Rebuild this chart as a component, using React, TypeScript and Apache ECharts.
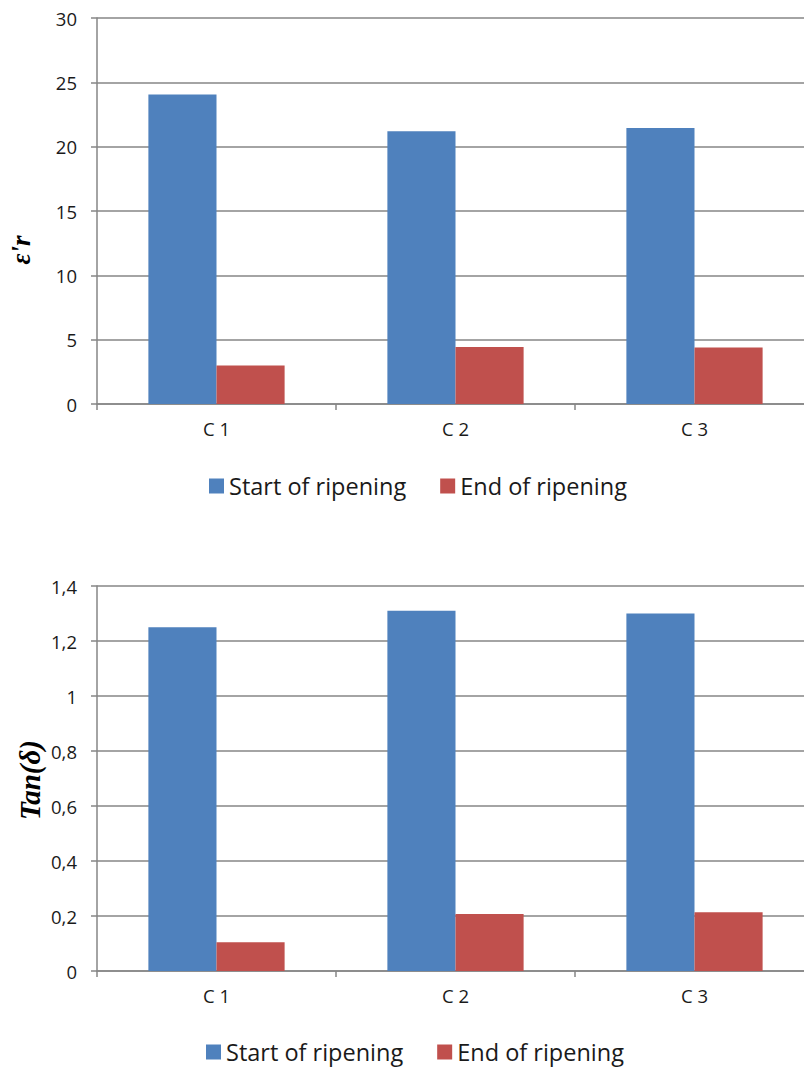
import React, { useEffect, useRef } from "react";
import * as echarts from "echarts";

const categories = ["C 1", "C 2", "C 3"];
const seriesNames = ["Start of ripening", "End of ripening"];
const epsStart = [24.05, 21.2, 21.45];
const epsEnd = [3.0, 4.43, 4.4];
const tanStart = [1.25, 1.31, 1.3];
const tanEnd = [0.105, 0.207, 0.214];

const BLUE = "#4F81BD";
const RED = "#C0504D";
const GRAY = "#868686";
const FONT = "'Open Sans', 'Noto Sans', sans-serif";

export default function App() {
  const ref = useRef<HTMLDivElement>(null);
  useEffect(() => {
    if (!ref.current) return;
    const chart = echarts.init(ref.current, undefined, { renderer: "svg" });
    const xAxisBase = (gridIndex: number) => ({
      type: "category" as const,
      gridIndex,
      data: categories,
      axisLine: { lineStyle: { color: GRAY, width: 1.5 } },
      axisTick: { show: true, length: 6, lineStyle: { color: GRAY, width: 1.5 } },
      axisLabel: { color: "#1a1a1a", fontSize: 18.5, fontFamily: FONT, margin: 15 },
      splitLine: { show: false },
    });
    const yAxisBase = (gridIndex: number, max: number, interval: number, fmt: (v: number) => string) => ({
      type: "value" as const,
      gridIndex,
      min: 0,
      max,
      interval,
      axisLine: { show: true, lineStyle: { color: GRAY, width: 1.5 } },
      axisTick: { show: true, length: 6, lineStyle: { color: GRAY, width: 1.5 } },
      axisLabel: { color: "#1a1a1a", fontSize: 18.5, fontFamily: FONT, margin: 20, formatter: fmt },
      splitLine: { show: true, lineStyle: { color: GRAY, width: 1.5 } },
    });
    const barBase = {
      type: "bar" as const,
      barGap: "0%",
      barCategoryGap: "43%",
    };
    const legendText = { fontSize: 23.5, lineHeight: 26, color: "#1a1a1a", fontFamily: FONT };
    chart.setOption({
      animation: false,
      grid: [
        { left: 97, top: 18, width: 717, height: 386 },
        { left: 97, top: 586, width: 717, height: 385 },
      ],
      xAxis: [xAxisBase(0), xAxisBase(1)],
      yAxis: [
        yAxisBase(0, 30, 5, (v: number) => String(v)),
        yAxisBase(1, 1.4, 0.2, (v: number) => String(Math.round(v * 10) / 10).replace(".", ",")),
      ],
      legend: [
        {
          data: seriesNames,
          left: 209,
          top: 473,
          padding: 0,
          itemWidth: 15,
          itemHeight: 15,
          itemGap: 34,
          icon: "rect",
          textStyle: legendText,
        },
        {
          data: seriesNames,
          left: 206,
          top: 1039,
          padding: 0,
          itemWidth: 15,
          itemHeight: 15,
          itemGap: 34,
          icon: "rect",
          textStyle: legendText,
        },
      ],
      graphic: [
        {
          type: "text",
          x: 21,
          y: 250,
          rotation: Math.PI / 2,
          style: {
            text: "ε'r",
            font: "italic bold 27px 'Liberation Serif', serif",
            fill: "#000",
            align: "center",
            verticalAlign: "middle",
          },
        },
        {
          type: "text",
          x: 30,
          y: 780,
          rotation: Math.PI / 2,
          style: {
            text: "Tan(δ)",
            font: "italic bold 29px 'Liberation Serif', serif",
            fill: "#000",
            align: "center",
            verticalAlign: "middle",
          },
        },
      ],
      series: [
        { ...barBase, name: seriesNames[0], xAxisIndex: 0, yAxisIndex: 0, data: epsStart, itemStyle: { color: BLUE } },
        { ...barBase, name: seriesNames[1], xAxisIndex: 0, yAxisIndex: 0, data: epsEnd, itemStyle: { color: RED } },
        { ...barBase, name: seriesNames[0], xAxisIndex: 1, yAxisIndex: 1, data: tanStart, itemStyle: { color: BLUE } },
        { ...barBase, name: seriesNames[1], xAxisIndex: 1, yAxisIndex: 1, data: tanEnd, itemStyle: { color: RED } },
      ],
    });
    return () => chart.dispose();
  }, []);
  return (
    <div style={{ position: "fixed", left: 0, top: 0, width: 804, height: 1068, overflow: "hidden", background: "#fff" }}>
      <div ref={ref} style={{ width: 820, height: 1068 }} />
    </div>
  );
}
